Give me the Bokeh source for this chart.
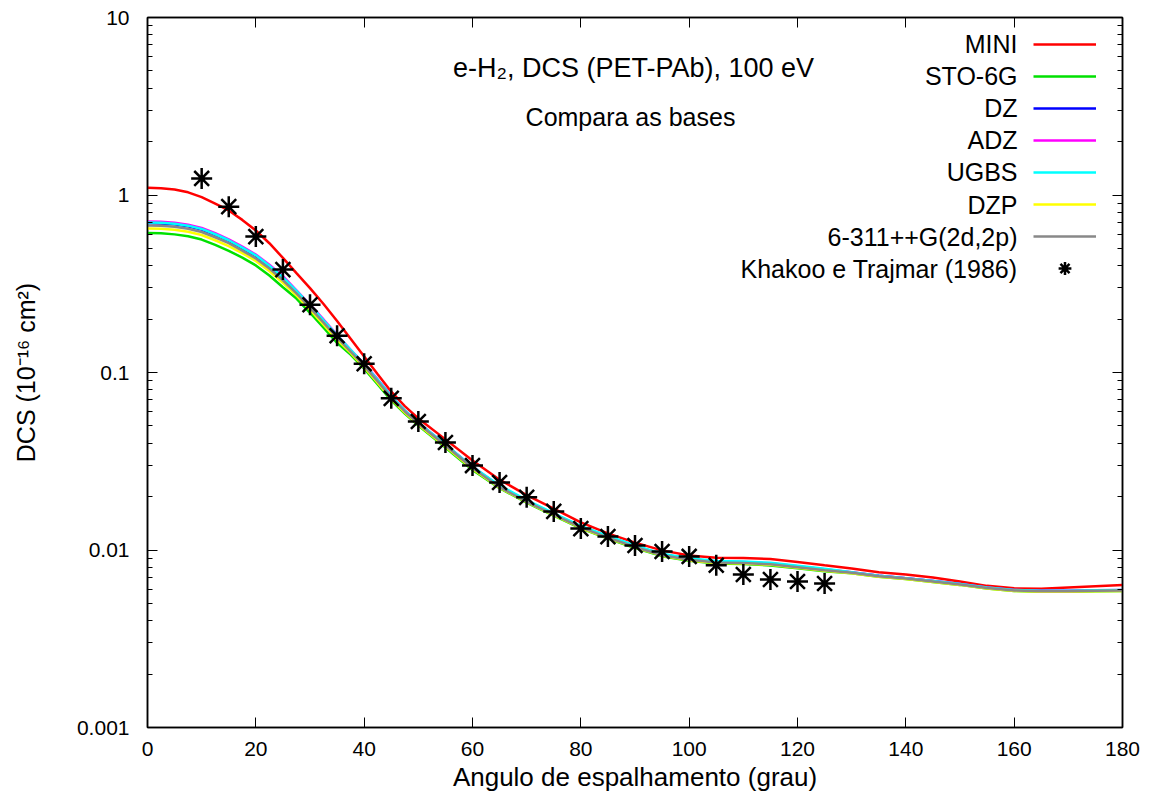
from bokeh.plotting import figure
from bokeh.models import (LogAxis, LinearAxis, FixedTicker, CustomJSTickFormatter,
                          Label, Legend, LegendItem, Range1d)
from bokeh.embed import file_html
from bokeh.resources import INLINE

FONT = "Liberation Sans"

angles = [0, 2.5, 5, 7.5, 10, 12.5, 15, 17.5, 20, 22.5, 25, 27.5, 30, 32.5, 35, 37.5, 40,
          42.5, 45, 47.5, 50, 55, 60, 65, 70, 75, 80, 85, 90, 95, 100, 105, 110, 115, 120,
          125, 130, 135, 140, 145, 150, 155, 160, 165, 170, 175, 180]

mini = [1.099, 1.091, 1.074, 1.035, 0.973, 0.895, 0.818, 0.724, 0.631, 0.535, 0.442, 0.363,
        0.299, 0.243, 0.195, 0.155, 0.123, 0.0977, 0.078, 0.0646, 0.0551, 0.0420, 0.0319,
        0.0249, 0.0204, 0.0171, 0.0143, 0.0124, 0.0110, 0.00995, 0.0093, 0.00905, 0.0090,
        0.0089, 0.00855, 0.0082, 0.00787, 0.00750, 0.00727, 0.00700, 0.00665, 0.00628,
        0.00608, 0.00605, 0.00615, 0.00625, 0.00635]

sto6g = [0.610, 0.608, 0.600, 0.586, 0.561, 0.524, 0.485, 0.444, 0.401, 0.352, 0.302, 0.261,
         0.217, 0.179, 0.147, 0.126, 0.105, 0.0857, 0.0696, 0.0587, 0.0502, 0.0378, 0.0282,
         0.0223, 0.01846, 0.0156, 0.01323, 0.0116, 0.01026, 0.00923, 0.00869, 0.00839,
         0.00834, 0.00819, 0.00790, 0.00760, 0.00740, 0.00707, 0.00686, 0.00661, 0.00636,
         0.00606, 0.00588, 0.00581, 0.00581, 0.00586, 0.00588]

dz = [0.695, 0.692, 0.684, 0.667, 0.639, 0.597, 0.553, 0.502, 0.453, 0.398, 0.342, 0.286,
      0.238, 0.196, 0.161, 0.133, 0.110, 0.0903, 0.0732, 0.0607, 0.0518, 0.0391, 0.0292,
      0.0227, 0.0188, 0.0159, 0.01349, 0.01183, 0.01047, 0.00941, 0.00886, 0.00856, 0.00850,
      0.00835, 0.00805, 0.00775, 0.00748, 0.00715, 0.00693, 0.00668, 0.00643, 0.00612,
      0.00594, 0.00587, 0.00587, 0.00592, 0.00594]

adz = [0.709, 0.706, 0.697, 0.680, 0.652, 0.609, 0.563, 0.512, 0.462, 0.405, 0.349, 0.290,
       0.241, 0.199, 0.163, 0.134, 0.112, 0.0914, 0.0742, 0.0611, 0.0522, 0.0393, 0.0294,
       0.0229, 0.0189, 0.0160, 0.01357, 0.0119, 0.01053, 0.00947, 0.00891, 0.00861, 0.00856,
       0.00841, 0.00810, 0.00780, 0.00750, 0.00717, 0.00694, 0.00669, 0.00644, 0.00614,
       0.00596, 0.00589, 0.00589, 0.00594, 0.00596]

ugbs = [0.700, 0.697, 0.688, 0.672, 0.644, 0.601, 0.556, 0.505, 0.457, 0.400, 0.344, 0.288,
        0.240, 0.197, 0.162, 0.134, 0.111, 0.0909, 0.0737, 0.0611, 0.0522, 0.0393, 0.0294,
        0.0231, 0.0191, 0.0161, 0.01367, 0.01199, 0.01061, 0.00954, 0.00898, 0.00867,
        0.00862, 0.00847, 0.00816, 0.00785, 0.00750, 0.00717, 0.00694, 0.00669, 0.00644,
        0.00614, 0.00596, 0.00589, 0.00589, 0.00594, 0.00596]

dzp = [0.647, 0.645, 0.637, 0.621, 0.595, 0.556, 0.515, 0.470, 0.425, 0.373, 0.320, 0.272,
       0.226, 0.186, 0.153, 0.129, 0.107, 0.0874, 0.0709, 0.0595, 0.0508, 0.0383, 0.0286,
       0.02245, 0.01858, 0.0157, 0.01331, 0.01167, 0.01033, 0.00929, 0.00874, 0.00845,
       0.00840, 0.00825, 0.00795, 0.00765, 0.00740, 0.00707, 0.00686, 0.00661, 0.00636,
       0.00606, 0.00588, 0.00581, 0.00581, 0.00586, 0.00588]

g6311 = [0.673, 0.670, 0.662, 0.646, 0.619, 0.578, 0.535, 0.486, 0.439, 0.385, 0.331, 0.279,
         0.232, 0.191, 0.157, 0.131, 0.109, 0.0891, 0.0723, 0.0603, 0.0515, 0.0388, 0.0290,
         0.0226, 0.0187, 0.0158, 0.0134, 0.01175, 0.0104, 0.00935, 0.00880, 0.00850, 0.00845,
         0.00830, 0.00800, 0.00770, 0.00745, 0.00712, 0.00690, 0.00665, 0.00640, 0.00610,
         0.00592, 0.00585, 0.00585, 0.00590, 0.00592]

exp_angles = [10, 15, 20, 25, 30, 35, 40, 45, 50, 55, 60, 65, 70, 75, 80, 85, 90, 95, 100,
              105, 110, 115, 120, 125]
exp_dcs = [1.24, 0.86, 0.583, 0.38, 0.241, 0.161, 0.112, 0.0715, 0.053, 0.0403, 0.0299,
           0.024, 0.0198, 0.0165, 0.0132, 0.0119, 0.0106, 0.0098, 0.0092, 0.0082, 0.00728,
           0.00682, 0.00665, 0.00648]

series_names = ["MINI", "STO-6G", "DZ", "ADZ", "UGBS", "DZP", "6-311++G(2d,2p)"]
series_vals = [mini, sto6g, dz, adz, ugbs, dzp, g6311]
series_colors = ["#ff0000", "#00e000", "#0000ff", "#ff00ff", "#00ffff", "#ffff00", "#888888"]
exp_name = "Khakoo e Trajmar (1986)"

x_ticks = [0, 20, 40, 60, 80, 100, 120, 140, 160, 180]
y_ticks = [0.001, 0.01, 0.1, 1, 10]
y_minor = [k * 10.0 ** e for e in range(-3, 1) for k in range(2, 10)]

p = figure(width=1156, height=800, y_axis_type="log",
           x_range=Range1d(0, 180), y_range=Range1d(0.001, 10),
           output_backend="svg", toolbar_location=None,
           min_border_left=147, min_border_right=34, min_border_top=17, min_border_bottom=73)
p.grid.visible = False
p.outline_line_color = "black"
p.outline_line_width = 1.5
p.background_fill_color = "white"
p.border_fill_color = "white"

def style_axis(ax):
    ax.axis_line_color = "black"
    ax.axis_line_width = 1.5
    ax.major_tick_in = 10
    ax.major_tick_out = 0
    ax.minor_tick_in = 5
    ax.minor_tick_out = 0
    ax.major_tick_line_color = "black"
    ax.minor_tick_line_color = "black"
    ax.major_tick_line_width = 1
    ax.minor_tick_line_width = 1
    ax.major_label_text_font = FONT
    ax.major_label_text_color = "black"
    ax.axis_label_text_font = FONT
    ax.axis_label_text_font_style = "normal"
    ax.axis_label_text_color = "black"

xa = p.xaxis[0]
style_axis(xa)
xa.ticker = FixedTicker(ticks=x_ticks)
xa.minor_tick_line_color = None
xa.major_label_text_font_size = "21px"
xa.major_label_standoff = 14
xa.axis_label = "Angulo de espalhamento (grau)"
xa.axis_label_text_font_size = "26px"
xa.axis_label_standoff = 3

ya = p.yaxis[0]
style_axis(ya)
ya.ticker = FixedTicker(ticks=y_ticks, minor_ticks=y_minor)
ya.formatter = CustomJSTickFormatter(code="return String(tick);")
ya.major_label_text_font_size = "21px"
ya.major_label_standoff = 18
ya.axis_label = "DCS (10\u207b\u00b9\u2076 cm\u00b2)"
ya.axis_label_text_font_size = "25px"
ya.axis_label_standoff = 34

blank = "return '';"
top = LinearAxis(ticker=FixedTicker(ticks=x_ticks), formatter=CustomJSTickFormatter(code=blank))
style_axis(top)
top.minor_tick_line_color = None
top.major_label_text_font_size = "0px"
top.major_label_standoff = 0
p.add_layout(top, "above")

right = LogAxis(ticker=FixedTicker(ticks=y_ticks, minor_ticks=y_minor),
                formatter=CustomJSTickFormatter(code=blank))
style_axis(right)
right.major_label_text_font_size = "0px"
right.major_label_standoff = 0
p.add_layout(right, "right")

renderers = []
for vals, col in zip(series_vals, series_colors):
    r = p.line(angles, vals, line_color=col, line_width=2.5)
    renderers.append(r)
r_exp = p.scatter(exp_angles, exp_dcs, marker="asterisk", size=21,
                  line_color="black", line_width=2.5)
renderers.append(r_exp)

legend = Legend(items=[LegendItem(label="", renderers=[r]) for r in renderers],
                location=(886, 443), glyph_width=63, glyph_height=32, label_height=32,
                label_width=0, label_standoff=0, spacing=0, padding=0, margin=0,
                border_line_alpha=0, background_fill_alpha=0)
p.add_layout(legend)

legend_names = series_names + [exp_name]
for i, name in enumerate(legend_names):
    p.add_layout(Label(x=870, y=684 - 32.2 * i, x_units="screen", y_units="screen",
                       text=name, text_align="right", text_baseline="middle",
                       text_font=FONT, text_font_size="25px", text_color="black"))

p.add_layout(Label(x=486, y=660, x_units="screen", y_units="screen",
                   text="e-H\u2082, DCS (PET-PAb), 100 eV", text_align="center",
                   text_baseline="middle", text_font=FONT, text_font_size="27px",
                   text_color="black"))
p.add_layout(Label(x=483, y=611, x_units="screen", y_units="screen",
                   text="Compara as bases", text_align="center",
                   text_baseline="middle", text_font=FONT, text_font_size="25px",
                   text_color="black"))

open("out.html", "w").write(file_html(p, INLINE))
